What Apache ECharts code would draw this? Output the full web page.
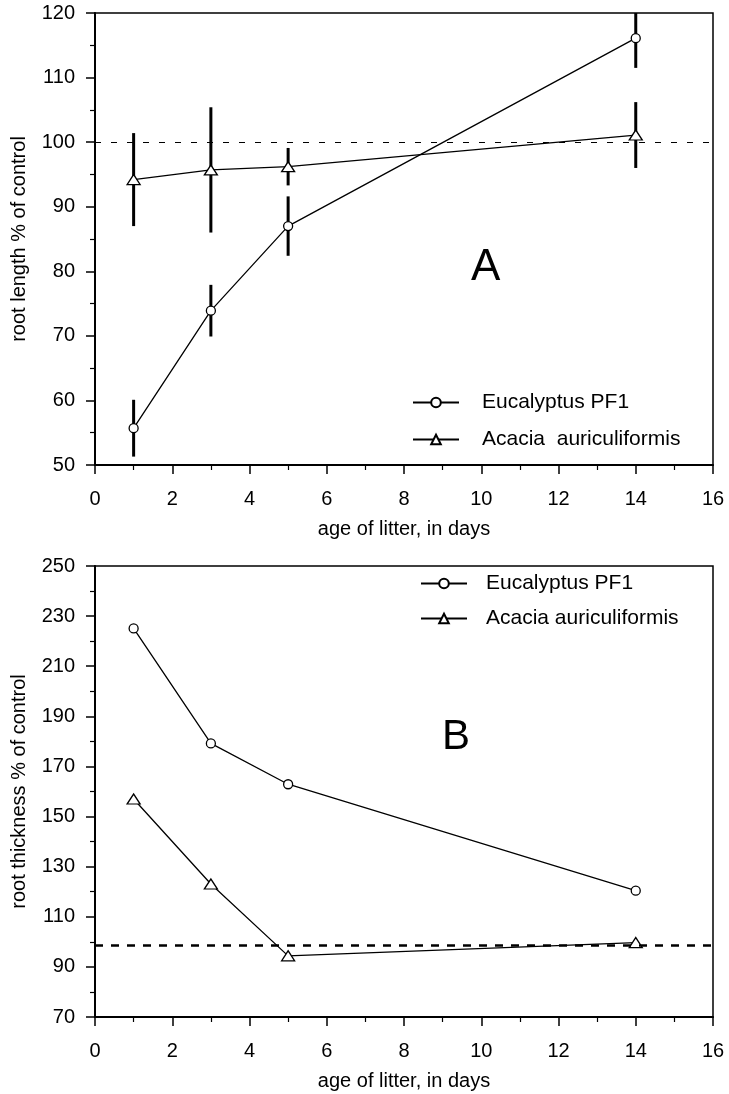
<!DOCTYPE html>
<html>
<head>
<meta charset="utf-8">
<title>root length / root thickness</title>
<script src="https://cdn.jsdelivr.net/npm/echarts@6/dist/echarts.min.js"></script>
<style>
  html, body { margin: 0; padding: 0; background: #fff; }
  #chart { width: 729px; height: 1094px; }
</style>
</head>
<body>
<div id="chart"></div>
<script>
// data
const days = [1, 3, 5, 14]
const xTicks = [0, 2, 4, 6, 8, 10, 12, 14, 16]

// panel A: root length % of control (mean, error half-width)
const eucLength = [55.7, 73.9, 87.0, 116.1]
const eucLengthErr = [4.4, 4.0, 4.6, 4.6]
const acaLength = [94.2, 95.7, 96.2, 101.1]
const acaLengthErr = [7.2, 9.7, 2.9, 5.1]
const controlA = 100

// panel B: root thickness % of control
const eucThick = [225.1, 179.2, 162.9, 120.4]
const acaThick = [157.0, 123.1, 94.4, 99.7]
const controlB = 98.7

const names = ['Eucalyptus PF1', 'Acacia auriculiformis']
const font = '"Liberation Sans", Arial, Helvetica, sans-serif'

const chart = echarts.init(document.getElementById('chart'))

const pairs = (ys) => days.map((d, i) => [d, ys[i]])
const errPairs = (ys, es) => days.map((d, i) => [d, ys[i] - es[i], ys[i] + es[i]])

// vertical error bar, drawn through the axis scales
function errorBars(params, api) {
  const lo = api.coord([api.value(0), api.value(1)])
  const hi = api.coord([api.value(0), api.value(2)])
  return {
    type: 'line',
    shape: { x1: lo[0], y1: lo[1], x2: hi[0], y2: hi[1] },
    style: { stroke: '#000', lineWidth: 3 }
  }
}

function xAxisOf(idx) {
  return {
    gridIndex: idx,
    type: 'value',
    min: xTicks[0],
    max: xTicks[xTicks.length - 1],
    interval: 2,
    name: 'age of litter, in days',
    nameLocation: 'middle',
    nameGap: 54,
    nameTextStyle: { fontFamily: font, fontSize: 20, color: '#000' },
    axisLine: { show: true, lineStyle: { color: '#000', width: 2 } },
    axisTick: { show: true, length: 9, lineStyle: { color: '#000', width: 1.5 } },
    minorTick: { show: true, splitNumber: 2, length: 5, lineStyle: { color: '#000', width: 1.2 } },
    axisLabel: { margin: 24, fontFamily: font, fontSize: 20, color: '#000' },
    splitLine: { show: false }
  }
}

function yAxisOf(idx, min, max, interval, title) {
  return {
    gridIndex: idx,
    type: 'value',
    min: min,
    max: max,
    interval: interval,
    name: title,
    nameLocation: 'middle',
    nameRotate: 90,
    nameGap: 66,
    nameTextStyle: { fontFamily: font, fontSize: 20, color: '#000' },
    axisLine: { show: true, lineStyle: { color: '#000', width: 2 } },
    axisTick: { show: true, length: 9, lineStyle: { color: '#000', width: 1.5 } },
    minorTick: { show: true, splitNumber: 2, length: 5, lineStyle: { color: '#000', width: 1.2 } },
    axisLabel: { margin: 20, fontFamily: font, fontSize: 20, color: '#000' },
    splitLine: { show: false }
  }
}

function lineSeries(name, idx, data, symbol, size, mark) {
  const s = {
    name: name,
    type: 'line',
    xAxisIndex: idx,
    yAxisIndex: idx,
    data: data,
    symbol: symbol,
    symbolSize: size,
    showAllSymbol: true,
    z: 3,
    lineStyle: { color: '#000', width: 1.3 },
    itemStyle: { color: '#fff', borderColor: '#000', borderWidth: 1.3 }
  }
  if (mark) s.markLine = mark
  return s
}

function controlLine(value, width, dash) {
  return {
    silent: true,
    symbol: 'none',
    label: { show: false },
    lineStyle: { color: '#000', width: width, type: dash },
    data: [{ yAxis: value }]
  }
}

function legendOf(name, left, top, pad, label) {
  return {
    data: [name],
    left: left,
    top: top,
    padding: 0,
    itemWidth: 46,
    itemHeight: 12,
    selectedMode: false,
    formatter: () => label,
    textStyle: { fontFamily: font, fontSize: 21, color: '#000', padding: [0, 0, 0, pad] }
  }
}

const option = {
  animation: false,
  backgroundColor: '#fff',
  title: [
    { text: 'A', left: 471, top: 246, padding: 0, textStyle: { fontFamily: font, fontSize: 44, fontWeight: 'normal', color: '#000' } },
    { text: 'B', left: 442, top: 716, padding: 0, textStyle: { fontFamily: font, fontSize: 42, fontWeight: 'normal', color: '#000' } }
  ],
  grid: [
    { left: 95, right: 16, top: 13, height: 452, outerBoundsMode: 'none', containLabel: false,
      show: true, borderColor: '#000', borderWidth: 1.5, backgroundColor: 'transparent' },
    { left: 95, right: 16, top: 566, height: 451, outerBoundsMode: 'none', containLabel: false,
      show: true, borderColor: '#000', borderWidth: 1.5, backgroundColor: 'transparent' }
  ],
  legend: [
    legendOf(names[0], 412, 392, 18, 'Eucalyptus PF1'),
    legendOf(names[1], 412, 429, 18, 'Acacia  auriculiformis'),
    legendOf(names[0], 420, 573, 14, 'Eucalyptus PF1'),
    legendOf(names[1], 420, 608, 14, 'Acacia auriculiformis')
  ],
  xAxis: [xAxisOf(0), xAxisOf(1)],
  yAxis: [
    yAxisOf(0, 50, 120, 10, 'root length % of control'),
    yAxisOf(1, 70, 250, 20, 'root thickness % of control')
  ],
  series: [
    // error bars, panel A
    { type: 'custom', xAxisIndex: 0, yAxisIndex: 0, z: 1, clip: true, silent: true,
      renderItem: errorBars, encode: { x: 0, y: [1, 2] }, data: errPairs(eucLength, eucLengthErr) },
    { type: 'custom', xAxisIndex: 0, yAxisIndex: 0, z: 1, clip: true, silent: true,
      renderItem: errorBars, encode: { x: 0, y: [1, 2] }, data: errPairs(acaLength, acaLengthErr) },
    lineSeries(names[0], 0, pairs(eucLength), 'circle', 9, controlLine(controlA, 1, [6, 10])),
    lineSeries(names[1], 0, pairs(acaLength), 'triangle', [13, 10]),
    lineSeries(names[0], 1, pairs(eucThick), 'circle', 9, controlLine(controlB, 2.5, [8, 8])),
    lineSeries(names[1], 1, pairs(acaThick), 'triangle', [13, 10])
  ]
}

chart.setOption(option)
</script>
</body>
</html>
